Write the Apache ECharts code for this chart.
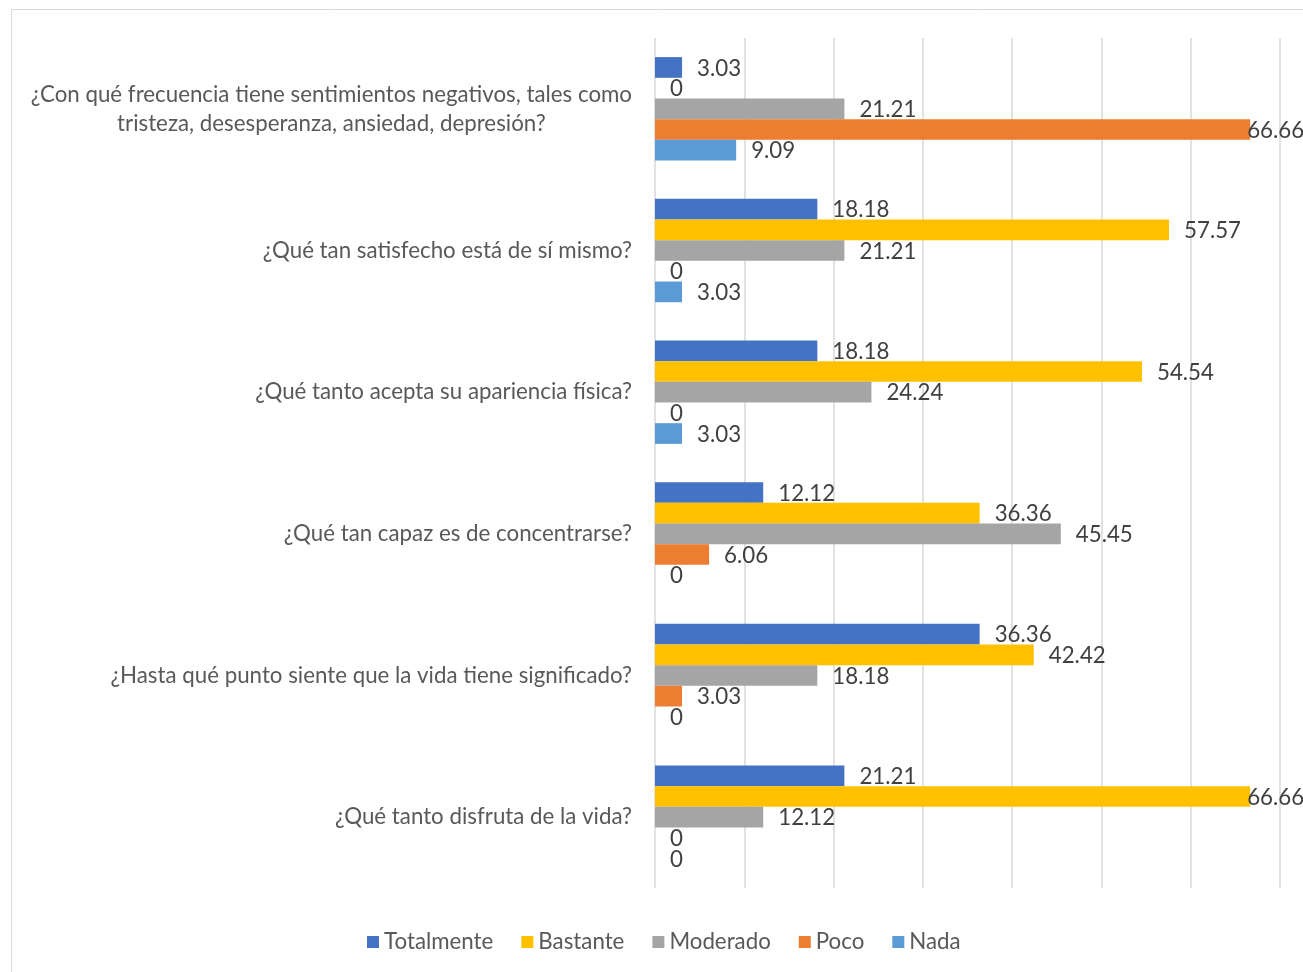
<!DOCTYPE html>
<html>
<head>
<meta charset="utf-8">
<script src="https://cdn.jsdelivr.net/npm/echarts@6/dist/echarts.min.js"></script>
<style>
html,body{margin:0;padding:0;background:#fff;}
#chart{width:1303px;height:972px;}
</style>
</head>
<body>
<div id="chart"></div>
<script>
const categories = [
  "¿Con qué frecuencia tiene sentimientos negativos, tales como\ntristeza, desesperanza, ansiedad, depresión?",
  "¿Qué tan satisfecho está de sí mismo?",
  "¿Qué tanto acepta su apariencia física?",
  "¿Qué tan capaz es de concentrarse?",
  "¿Hasta qué punto siente que la vida tiene significado?",
  "¿Qué tanto disfruta de la vida?"
];
const seriesNames = ["Totalmente", "Bastante", "Moderado", "Poco", "Nada"];
const totalmente = [3.03, 18.18, 18.18, 12.12, 36.36, 21.21];
const bastante   = [0, 57.57, 54.54, 36.36, 42.42, 66.66];
const moderado   = [21.21, 21.21, 24.24, 45.45, 18.18, 12.12];
const poco       = [66.66, 0, 0, 6.06, 3.03, 0];
const nada       = [9.09, 3.03, 3.03, 0, 0, 0];
const colors = ["#4472C4", "#FFC000", "#A5A5A5", "#ED7D31", "#5B9BD5"];
const seriesValues = [totalmente, bastante, moderado, poco, nada];

const FONT = "Lato";
const FS = 22.3;
const chart = echarts.init(document.getElementById('chart'), null, {renderer: 'canvas'});

const series = seriesNames.map((name, i) => ({
  name: name,
  type: 'bar',
  // labels of bars reaching the plot's right edge sit on the bar end so they stay visible
  data: seriesValues[i].map(v => v > 60 ? {value: v, label: {distance: -3}} : v),
  barGap: '0%',
  barCategoryGap: '27%',
  itemStyle: {color: colors[i]},
  label: {
    show: true,
    position: 'right',
    distance: 15,
    color: '#404040',
    fontSize: FS,
    fontFamily: FONT,
    offset: [0, 1],
    formatter: p => String(p.value)
  }
}));

chart.setOption({
  animation: false,
  backgroundColor: '#fff',
  color: colors,
  graphic: [{
    type: 'rect',
    shape: {x: 11.5, y: 9.5, width: 1400, height: 1000},
    style: {fill: 'none', stroke: '#D9D9D9', lineWidth: 1},
    silent: true
  }],
  grid: {left: 655, right: 23, top: 38, bottom: 84, containLabel: false},
  xAxis: {
    type: 'value',
    min: 0, max: 70, interval: 10,
    axisLabel: {show: false},
    axisLine: {show: false},
    axisTick: {show: false},
    splitLine: {show: true, lineStyle: {color: '#D9D9D9', width: 1.5}}
  },
  yAxis: {
    type: 'category',
    inverse: true,
    data: categories,
    axisLine: {show: false},
    axisTick: {show: false},
    axisLabel: {
      margin: 23,
      color: '#595959',
      fontSize: FS,
      fontFamily: FONT,
      formatter: v => v.split('\n').map(s => '{c|' + s + '}').join('\n'),
      rich: {c: {align: 'center', color: '#595959', fontSize: FS, fontFamily: FONT, lineHeight: 29}}
    }
  },
  legend: {
    bottom: 19,
    left: 367,
    padding: 0,
    icon: 'rect',
    itemWidth: 12,
    itemHeight: 12,
    itemGap: 28,
    textStyle: {color: '#595959', fontSize: FS, fontFamily: FONT},
    data: seriesNames
  },
  series: series
});
</script>
</body>
</html>
